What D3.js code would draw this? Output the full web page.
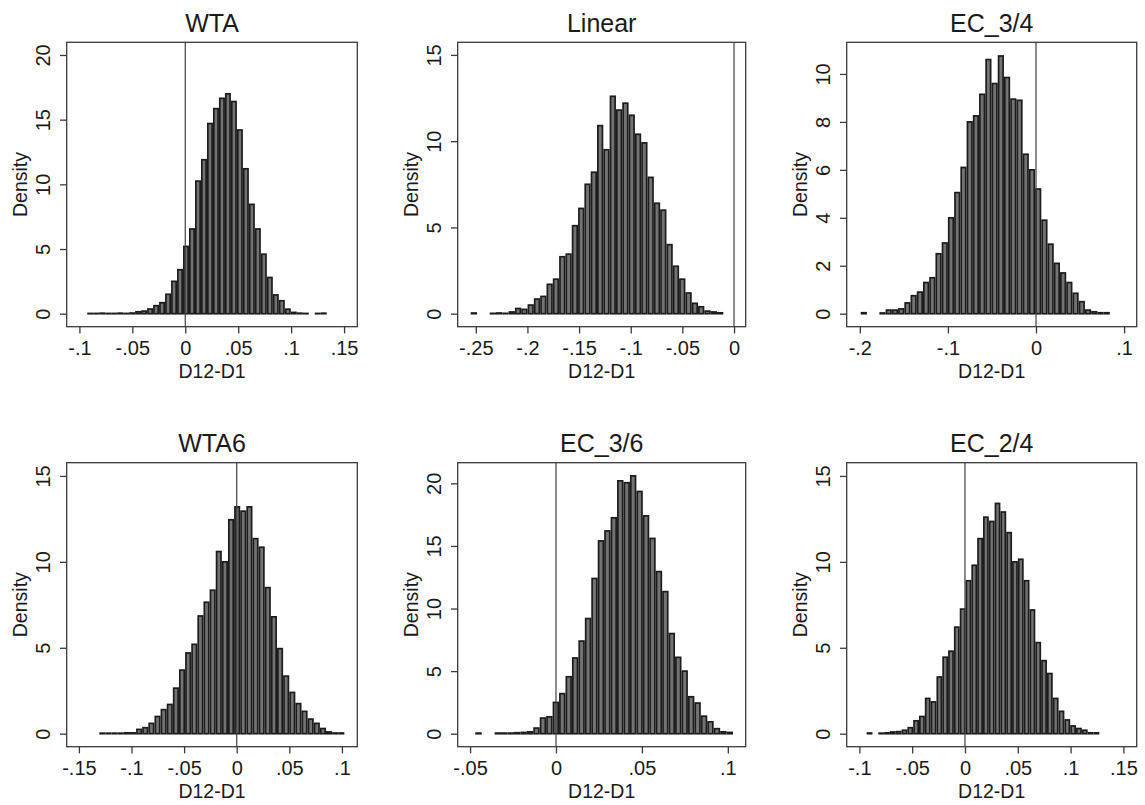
<!DOCTYPE html>
<html>
<head>
<meta charset="utf-8">
<script src="https://cdn.jsdelivr.net/npm/d3@7/dist/d3.min.js"></script>
<style>
  html, body { margin: 0; padding: 0; background: #fff; }
  svg { display: block; }
  text { font-family: "Liberation Sans", Arial, Helvetica, sans-serif; fill: #1a1a1a; }
</style>
</head>
<body>
<svg id="chart" width="1145" height="805"></svg>
<script>
// Bootstrap distributions of D12-D1, 40 density bins per treatment.
const titles = ["WTA", "Linear", "EC_3/4", "WTA6", "EC_3/6", "EC_2/4"];

const wtaDensity = [0.02, 0.02, 0.04, 0.02, 0.02, 0.04, 0.02, 0.05, 0.15, 0.2,
  0.36, 0.62, 0.85, 1.5, 2.5, 3.4, 5.2, 6.55, 10.25, 11.9,
  14.7, 15.85, 16.65, 17.0, 16.4, 14.2, 11.2, 8.45, 6.55, 4.6,
  2.8, 1.45, 1.0, 0.35, 0.1, 0.04, 0.02, 0, 0.02, 0.04];
const linearDensity = [0.04, 0, 0, 0.02, 0.04, 0.02, 0.1, 0.3, 0.25, 0.5,
  0.85, 1.0, 1.7, 2.0, 3.3, 3.45, 5.1, 6.1, 7.5, 8.2,
  10.9, 9.5, 12.6, 11.8, 12.2, 11.5, 10.4, 9.9, 7.9, 6.4,
  6.0, 4.0, 2.75, 2.0, 1.2, 0.6, 0.4, 0.15, 0.1, 0.05];
const ec34Density = [0.04, 0, 0, 0.03, 0.15, 0.15, 0.2, 0.45, 0.75, 0.9,
  1.3, 1.5, 2.5, 2.95, 4.0, 5.05, 6.1, 8.0, 8.25, 9.15,
  10.6, 9.6, 10.75, 9.85, 8.95, 8.9, 6.65, 6.0, 5.2, 3.9,
  2.9, 2.1, 1.7, 1.3, 0.85, 0.5, 0.15, 0.08, 0.04, 0.04];
const wta6Density = [0.03, 0.03, 0.03, 0.03, 0.05, 0.05, 0.25, 0.35, 0.6, 1.0,
  1.4, 1.7, 2.65, 3.7, 4.7, 5.2, 6.85, 7.65, 8.35, 10.6,
  10.0, 12.45, 13.2, 12.95, 13.2, 11.35, 10.85, 8.5, 6.8, 4.95,
  3.35, 2.4, 1.75, 1.3, 0.85, 0.6, 0.3, 0.1, 0.04, 0.04];
const ec36Density = [0.05, 0, 0, 0.05, 0.05, 0.05, 0.08, 0.1, 0.15, 0.45,
  1.25, 1.35, 2.5, 3.2, 4.55, 6.05, 7.4, 9.2, 12.4, 15.4,
  16.2, 17.25, 20.2, 20.05, 20.6, 19.35, 17.4, 15.6, 12.95, 11.35,
  8.0, 6.1, 5.0, 2.95, 2.45, 1.4, 0.95, 0.4, 0.15, 0.1];
const ec24Density = [0.04, 0, 0.03, 0.05, 0.1, 0.12, 0.2, 0.35, 0.75, 1.0,
  2.05, 1.85, 3.3, 4.45, 4.8, 6.2, 7.25, 8.9, 9.8, 11.35,
  12.6, 12.35, 13.4, 12.9, 11.7, 10.0, 10.15, 8.9, 7.2, 5.3,
  4.25, 3.5, 2.05, 1.3, 0.8, 0.45, 0.3, 0.2, 0.05, 0.05];

// Lower edge of the first bin and the bin width for each treatment
const binStarts = [-0.0926, -0.2549, -0.1990, -0.1306, -0.04697, -0.0931];
const binWidths = [0.005655, 0.006113, 0.00707, 0.005823, 0.00375, 0.005507];

// Axis ranges and tick values
const xDomains = [[-0.1120, 0.1625], [-0.2675, 0.0113], [-0.2149, 0.1143],
                  [-0.1616, 0.1146], [-0.0572, 0.1104], [-0.1120, 0.1626]];
const yDomains = [[-1.005, 20.98], [-0.754, 15.73], [-0.542, 11.32],
                  [-0.757, 15.77], [-1.038, 21.65], [-0.757, 15.77]];
const xTicks = [[-0.1, -0.05, 0, 0.05, 0.1, 0.15], [-0.25, -0.2, -0.15, -0.1, -0.05, 0],
                [-0.2, -0.1, 0, 0.1], [-0.15, -0.1, -0.05, 0, 0.05, 0.1],
                [-0.05, 0, 0.05, 0.1], [-0.1, -0.05, 0, 0.05, 0.1, 0.15]];
const yTicks = [[0, 5, 10, 15, 20], [0, 5, 10, 15], [0, 2, 4, 6, 8, 10],
                [0, 5, 10, 15], [0, 5, 10, 15, 20], [0, 5, 10, 15]];
const xTitle = "D12-D1";
const yTitle = "Density";

const densities = [wtaDensity, linearDensity, ec34Density, wta6Density, ec36Density, ec24Density];

// Plot-region boxes of the 3 x 2 grid
const colLeft = [66.7, 457.7, 846.7];
const colRight = [357.3, 745.7, 1136.7];
const rowTop = [42.3, 462.7];
const rowBottom = [326.7, 746.7];

const frameColor = "#3a3a3a";
const barStroke = "#1c1c1c";
const barFill = "#737373";
const barLine = 1.7;

// Leading-zero-free number labels (".05", "-.1", "0")
const fmt = v => {
  if (v === 0) return "0";
  return String(+v.toFixed(4)).replace(/^(-?)0\./, "$1.");
};

const svg = d3.select("#chart");

titles.forEach((title, p) => {
  const col = p % 3, row = Math.floor(p / 3);
  const L = colLeft[col], R = colRight[col], T = rowTop[row], B = rowBottom[row];
  const x = d3.scaleLinear().domain(xDomains[p]).range([L, R]);
  const y = d3.scaleLinear().domain(yDomains[p]).range([B, T]);
  const g = svg.append("g");

  // bars
  const bins = densities[p].map((v, i) => ({
    x0: binStarts[p] + i * binWidths[p],
    x1: binStarts[p] + (i + 1) * binWidths[p],
    v
  })).filter(d => d.v > 0);

  g.append("g").selectAll("rect").data(bins).join("rect")
    .attr("x", d => x(d.x0) + barLine / 2)
    .attr("width", d => Math.max(0.1, x(d.x1) - x(d.x0) - barLine))
    .attr("y", d => y(d.v))
    .attr("height", d => y(0) - y(d.v))
    .attr("fill", barFill)
    .attr("stroke", barStroke)
    .attr("stroke-width", barLine);

  // reference line at zero
  g.append("line")
    .attr("x1", x(0)).attr("x2", x(0))
    .attr("y1", T).attr("y2", B)
    .attr("stroke", "#404040").attr("stroke-width", 1.2);

  // plot-region frame
  g.append("rect")
    .attr("x", L).attr("y", T).attr("width", R - L).attr("height", B - T)
    .attr("fill", "none").attr("stroke", frameColor).attr("stroke-width", 1.3);

  // x axis
  const xa = g.append("g").attr("transform", `translate(0,${B})`)
    .call(d3.axisBottom(x).tickValues(xTicks[p]).tickFormat(fmt).tickSize(6.7).tickPadding(0));
  xa.select(".domain").remove();
  xa.selectAll(".tick line").attr("stroke", frameColor).attr("stroke-width", 1.3);
  xa.selectAll(".tick text")
    .attr("y", 28).attr("dy", null)
    .style("font-size", "20px").attr("fill", "#1a1a1a");

  // y axis with vertical labels
  const ya = g.append("g").attr("transform", `translate(${L},0)`)
    .call(d3.axisLeft(y).tickValues(yTicks[p]).tickFormat(d3.format("d")).tickSize(6.7));
  ya.select(".domain").remove();
  ya.selectAll(".tick line").attr("stroke", frameColor).attr("stroke-width", 1.3);
  ya.selectAll(".tick text")
    .attr("x", 0).attr("y", -17).attr("dy", null)
    .attr("text-anchor", "middle")
    .attr("transform", "rotate(-90)")
    .style("font-size", "20px").attr("fill", "#1a1a1a");

  // axis titles and panel title
  g.append("text")
    .attr("x", (L + R) / 2).attr("y", B + 51.6)
    .attr("text-anchor", "middle").style("font-size", "19.5px")
    .text(xTitle);
  g.append("text")
    .attr("transform", `translate(${L - 40},${(T + B) / 2}) rotate(-90)`)
    .attr("text-anchor", "middle").style("font-size", "19.5px")
    .text(yTitle);
  g.append("text")
    .attr("x", (L + R) / 2).attr("y", T - 10.6)
    .attr("text-anchor", "middle").style("font-size", "25px")
    .text(title);
});
</script>
</body>
</html>
